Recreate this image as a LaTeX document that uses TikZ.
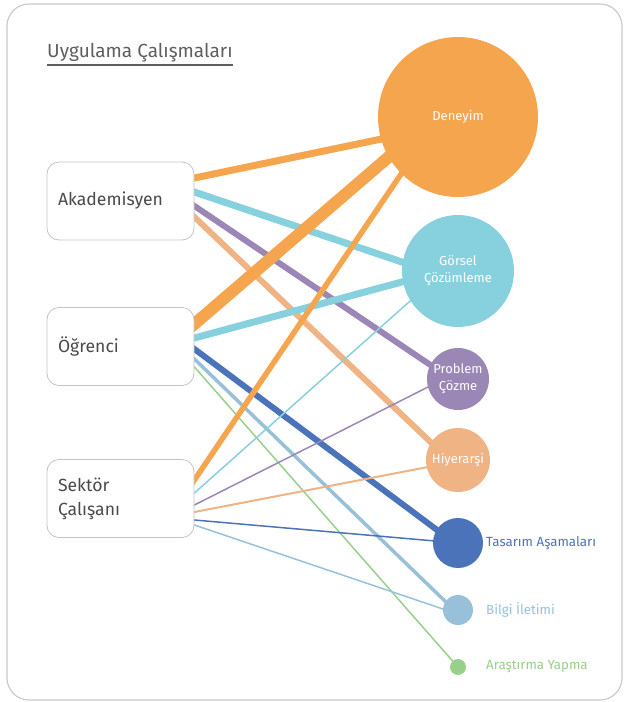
\documentclass[tikz,border=0pt]{standalone}
\usepackage{fontspec}
\setmainfont{Fira Sans}
\usetikzlibrary{backgrounds}
\definecolor{orangec}{HTML}{F5A54E}
\definecolor{cyanc}{HTML}{87D1DF}
\definecolor{purplec}{HTML}{9B87B6}
\definecolor{peachc}{HTML}{EFB384}
\definecolor{bluec}{HTML}{4A73BA}
\definecolor{lbluec}{HTML}{98C1D9}
\definecolor{greenc}{HTML}{98CF8A}
\definecolor{framec}{HTML}{CACACA}
\definecolor{boxc}{HTML}{C4C4C4}
\definecolor{textc}{HTML}{4A4A4A}
\definecolor{titlec}{HTML}{5E5E5E}
\begin{document}
\begin{tikzpicture}[x=1pt,y=-1pt,
  box/.style={draw=boxc, line width=0.8pt, fill=white, rounded corners=12pt,
    minimum width=147pt, minimum height=78pt, text width=125pt, inner sep=0pt,
    align=left, text=textc, font=\fontsize{17.6}{24}\selectfont},
  circ/.style={circle, inner sep=0pt, text=white, align=center,
    font=\fontsize{13}{17}\selectfont},
  lab/.style={anchor=west, inner sep=0pt, font=\fontsize{13.3}{15}\selectfont},
  lnk/.style={shorten <=-5pt, shorten >=-8pt}]
\useasboundingbox (0,0) rectangle (624,702);
\draw[framec, line width=1.2pt, rounded corners=22pt] (7,4) rectangle (622,700);

\node[anchor=base west, inner sep=0pt, text=titlec, font=\fontsize{19}{22}\selectfont] (title) at (47,57) {Uygulama Çalışmaları};
\draw[titlec, line width=1.2pt] ([yshift=-8pt]title.base west) -- ([yshift=-8pt]title.base east);

\node[box] (ak) at (120.5,201) {Akademisyen};
\node[box] (og) at (120.5,346.5) {Öğrenci};
\node[box] (se) at (120.5,498.5) {Sektör\\Çalışanı};

\node[circ, fill=orangec, minimum size=160pt] (den) at (458,117) {Deneyim};
\node[circ, fill=cyanc, minimum size=112pt] (gor) at (458,271) {Görsel\\Çözümleme};
\node[circ, fill=purplec, minimum size=62pt] (pro) at (458,379) {Problem\\Çözme};
\node[circ, fill=peachc, minimum size=64pt] (hiy) at (458,460) {Hiyerarşi};
\node[circle, inner sep=0pt, fill=bluec, minimum size=50pt] (tas) at (458,543) {};
\node[circle, inner sep=0pt, fill=lbluec, minimum size=30pt] (bil) at (458,610) {};
\node[circle, inner sep=0pt, fill=greenc, minimum size=16pt] (ara) at (458,667) {};

\node[lab, text=bluec] (tasl) at (486,543) {Tasarım Aşamaları};
\node[lab, text=lbluec] (bill) at (486,610) {Bilgi İletimi};
\node[lab, text=greenc] (aral) at (486,667) {Araştırma Yapma};

\begin{pgfonlayer}{background}
% Akademisyen
\draw[lnk, orangec, line width=7pt] ([yshift=23pt]ak.east) -- (den.196);
\draw[lnk, cyanc, line width=7pt] ([yshift=9pt]ak.east) -- (gor.171);
\draw[lnk, purplec, line width=6pt] ([yshift=-5pt]ak.east) -- (pro.153);
\draw[lnk, peachc, line width=6pt] ([yshift=-16pt]ak.east) -- (hiy.147);
% Ogrenci
\draw[lnk, orangec, line width=12pt] ([yshift=22.5pt]og.east) -- (den.210);
\draw[lnk, cyanc, line width=7pt] ([yshift=8.5pt]og.east) -- (gor.191);
\draw[lnk, bluec, line width=6pt] ([yshift=-2.5pt]og.east) -- (tas.148);
\draw[lnk, lbluec, line width=3.5pt] ([yshift=-12.5pt]og.east) -- (bil.146);
\draw[lnk, greenc, line width=1.5pt] ([yshift=-20.5pt]og.east) -- (ara.132);
% Sektor
\draw[lnk, orangec, line width=5.5pt] ([yshift=18.5pt]se.east) -- (den.225);
\draw[lnk, cyanc, line width=1.5pt] ([yshift=5.5pt]se.east) -- (gor.212);
\draw[lnk, purplec, line width=1.5pt] ([yshift=-6.5pt]se.east) -- (pro.195);
\draw[lnk, peachc, line width=2pt] ([yshift=-13.5pt]se.east) -- (hiy.193);
\draw[lnk, bluec, line width=1.5pt] ([yshift=-21.5pt]se.east) -- (tas.175);
\draw[lnk, lbluec, line width=1.5pt] ([yshift=-26.5pt]se.east) -- (bil.176);
\end{pgfonlayer}
\end{tikzpicture}
\end{document}
